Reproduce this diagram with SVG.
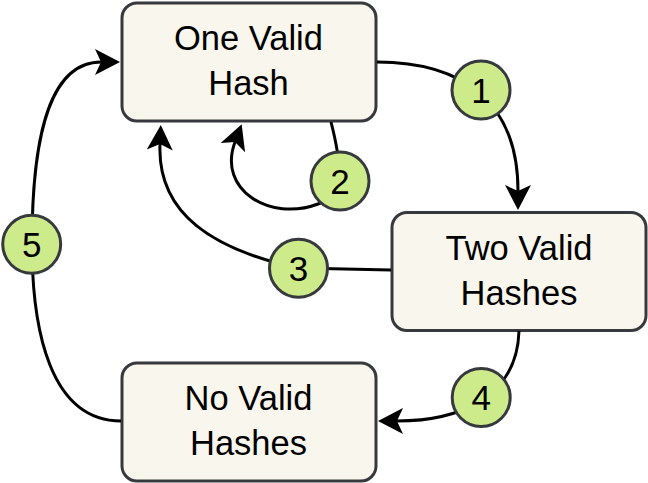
<svg xmlns="http://www.w3.org/2000/svg" width="648" height="483" viewBox="0 0 648 483">
<style>
.node rect{fill:#f9f7ed;stroke:#36393d;stroke-width:3}
.node text{font-family:"Liberation Sans",Arial,sans-serif;font-size:34.5px;fill:#000;text-anchor:middle}
.edge{fill:none;stroke:#000;stroke-width:3}
.lbl circle{fill:#cdeb8b;stroke:#36393d;stroke-width:3}
.lbl text{font-family:"Liberation Sans",Arial,sans-serif;font-size:35px;fill:#000;text-anchor:middle}
</style>
<defs>
<marker id="arr" markerUnits="userSpaceOnUse" viewBox="-7 -14 27 28" refX="0" refY="0" markerWidth="27" markerHeight="28" orient="auto">
<path d="M19,0 L-6,-13 L0,0 L-6,13 Z" fill="#000"/>
</marker>
</defs>
<g id="one-valid-hash" class="node">
<rect x="122" y="3" width="254" height="118" rx="15"/>
<text x="248.5" y="50">One Valid</text>
<text x="248.5" y="95">Hash</text>
</g>
<g id="two-valid-hashes" class="node">
<rect x="392" y="212.5" width="254" height="118" rx="15"/>
<text x="519" y="260">Two Valid</text>
<text x="519" y="305">Hashes</text>
</g>
<g id="no-valid-hashes" class="node">
<rect x="122" y="363" width="254" height="118" rx="15"/>
<text x="248.5" y="410">No Valid</text>
<text x="248.5" y="455">Hashes</text>
</g>
<g id="connectors">
<path class="edge" marker-end="url(#arr)" d="M377,62 C460,62 518,100 518,191"/>
<path class="edge" marker-end="url(#arr)" d="M331,122 C342,165 345,195 318,204 C270,222 217,190 235,142"/>
<path class="edge" marker-end="url(#arr)" d="M391,270 L298,268 C215,250 157,215 160,144"/>
<path class="edge" marker-end="url(#arr)" d="M519,331 C517,400 455,421 397,421"/>
<path class="edge" marker-end="url(#arr)" d="M121,421 C50,421 32,330 32,244 C32,150 45,62 101,62"/>
</g>
<g id="labels" class="lbl">
<g id="label-1"><circle cx="481" cy="90" r="29"/><text x="481" y="102.5">1</text></g>
<g id="label-2"><circle cx="340" cy="181" r="29"/><text x="340" y="193.5">2</text></g>
<g id="label-3"><circle cx="298.5" cy="268.3" r="29"/><text x="298.5" y="280.8">3</text></g>
<g id="label-4"><circle cx="481.2" cy="397.5" r="29"/><text x="481.2" y="410">4</text></g>
<g id="label-5"><circle cx="31.7" cy="244.2" r="29"/><text x="31.7" y="256.7">5</text></g>
</g>
</svg>
